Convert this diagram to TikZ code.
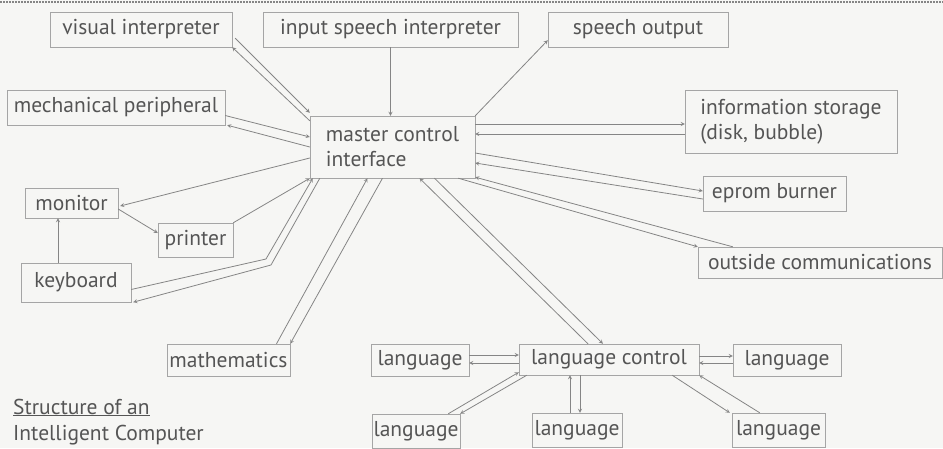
\documentclass[tikz,border=0pt]{standalone}
\usepackage{fontspec}
\setmainfont{PT Sans}
\usepackage{tikz}
\usetikzlibrary{arrows}
\definecolor{ink}{HTML}{555555}
\definecolor{wire}{HTML}{858585}
\definecolor{frame}{HTML}{A5A5A5}
\definecolor{paper}{HTML}{F6F6F4}
\tikzstyle{unit} = [rectangle, draw=frame, text=ink, inner sep=0pt, text centered, minimum height=35pt]
\tikzstyle{arrow} = [draw=wire, line width=0.8pt, ->, >=stealth]

\begin{document}
\begin{tikzpicture}[x=1pt, y=-1pt, font=\fontsize{21.5}{25}\selectfont]
\fill [paper] (0,0) rectangle (943,448);
\useasboundingbox (0,0) rectangle (943,448);
\draw [wire, line width=2pt, dash pattern=on 1.5pt off 1.5pt] (0,2) -- (943,2);
\node (vis) [unit, minimum width=182pt] at (141,29.5) {visual interpreter};
\node (isi) [unit, minimum width=255pt] at (390.5,29.5) {input speech interpreter};
\node (so) [unit, minimum width=180pt] at (638,29.5) {speech output};
\node (mech) [unit, minimum width=218pt] at (116,107.5) {mechanical peripheral};
\node (mci) [unit, minimum width=165pt, minimum height=62pt, align=left] at (392.5,147) {master control\\interface};
\node (info) [unit, minimum width=212pt, minimum height=63pt, align=left] at (791,121.5) {information storage\\(disk, bubble)};
\node (eprom) [unit, minimum width=143pt] at (774.5,193.5) {eprom burner};
\node (mon) [unit, minimum width=93pt, minimum height=30pt] at (71.5,203) {monitor};
\node (prn) [unit, minimum width=75pt, minimum height=34pt] at (195.5,240) {printer};
\node (kbd) [unit, minimum width=110pt, minimum height=39pt] at (76,282.5) {keyboard};
\node (outc) [unit, minimum width=244pt, minimum height=31pt] at (820,262.5) {outside communications};
\node (math) [unit, minimum width=123pt, minimum height=32pt] at (228.5,360) {mathematics};
\node (langL) [unit, minimum width=98pt, minimum height=32pt] at (420,360) {language};
\node (lc) [unit, minimum width=180pt, minimum height=31pt] at (609,359.5) {language control};
\node (langR) [unit, minimum width=108pt, minimum height=32pt] at (787,360) {language};
\node (langBL) [unit, minimum width=88pt, minimum height=34pt] at (416,431) {language};
\node (langBM) [unit, minimum width=90pt, minimum height=34pt] at (577,430) {language};
\node (langBR) [unit, minimum width=93pt, minimum height=34pt] at (778.5,430) {language};
\node (cap1) [anchor=base west, text=ink, inner sep=0pt] at (13,414) {\underline{Structure of an}};
\node (cap2) [anchor=base west, text=ink, inner sep=0pt] at (13,440) {Intelligent Computer};
\coordinate (kbend) at (266,259);
% top row
\draw [arrow] ([xshift=3pt,yshift=9pt]vis.south east) -- ([yshift=3pt]mci.north west);
\draw [arrow] ([yshift=-5pt]mci.north west) -- (vis.south east);
\draw [arrow] (isi.south) -- (isi.south |- mci.north);
\draw [arrow] (mci.north east) -- ([yshift=7pt]so.south west);
% left side
\draw [arrow] ([yshift=-8pt]mech.east) -- ([yshift=10pt]mci.west);
\draw [arrow] (mci.west) -- ([xshift=2pt]mech.south east);
\draw [arrow] ([yshift=-11pt]mci.west) -- ([xshift=2pt,yshift=-3pt]mon.east);
\draw [arrow] ([yshift=-6pt]mon.east) -- ([yshift=7pt]prn.west);
\draw [arrow] (prn.north east) -- (mci.south west);
\draw [arrow] ([xshift=-18pt]kbd.north) -- ([xshift=-13.5pt]mon.south);
\draw [arrow] ([yshift=-7pt]kbd.east) -- (kbend) -- ([xshift=3pt]mci.south west);
\draw [arrow] ([xshift=10pt]mci.south west) -- ([xshift=5pt,yshift=-6pt]kbend) -- ([xshift=2pt]kbd.south east);
\draw [arrow] ([xshift=48pt]math.north) -- ([xshift=-25pt]mci.south);
\draw [arrow] ([xshift=-10pt]mci.south) -- (math.north east);
% right side
\draw [arrow] ([yshift=23pt]mci.east) -- ([yshift=-2.5pt]info.west);
\draw [arrow] ([yshift=-12.5pt]info.west) -- ([yshift=13pt]mci.east);
\draw [arrow] ([yshift=-6pt]mci.east) -- ([yshift=2.5pt]eprom.west);
\draw [arrow] ([yshift=-5.5pt]eprom.west) -- ([yshift=-16pt]mci.east);
\draw [arrow] ([xshift=-17pt]mci.south east) -- (outc.north west);
\draw [arrow] ([xshift=35pt]outc.north west) -- ([yshift=1pt]mci.south east);
\draw [arrow] ([xshift=42pt]mci.south) -- ([xshift=-6pt]lc.north);
\draw [arrow] ([xshift=-21pt]lc.north) -- ([xshift=27pt]mci.south);
% languages
\draw [arrow] ([yshift=5pt]langL.east) -- ([yshift=4.5pt]lc.west);
\draw [arrow] ([yshift=-3.5pt]lc.west) -- ([yshift=-3pt]langL.east);
\draw [arrow] ([xshift=-12pt]langBL.north east) -- ([yshift=3pt]lc.south west);
\draw [arrow] ([xshift=8pt]lc.south west) -- (langBL.north east);
\draw [arrow] ([xshift=-7pt]langBM.north) -- ([xshift=-39pt]lc.south);
\draw [arrow] ([xshift=-29pt]lc.south) -- ([xshift=3pt]langBM.north);
\draw [arrow] ([yshift=3.5pt]lc.east) -- ([yshift=4pt]langR.west);
\draw [arrow] ([yshift=-3pt]langR.west) -- ([yshift=-3.5pt]lc.east);
\draw [arrow] ([xshift=-27pt]lc.south east) -- ([xshift=-2pt]langBR.north west);
\draw [arrow] ([xshift=28pt]langBR.north west) -- (lc.south east);
\end{tikzpicture}
\end{document}
